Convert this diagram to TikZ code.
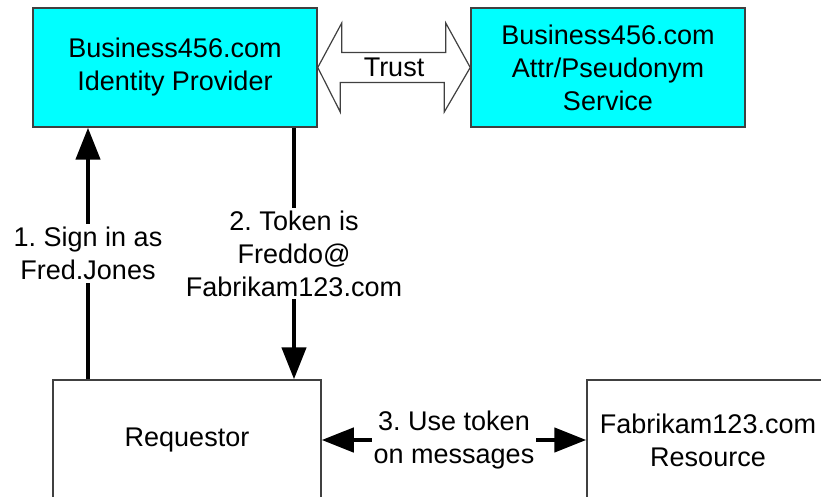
\documentclass[tikz,border=0pt]{standalone}
\usepackage{fontspec}
\setmainfont{Liberation Sans}
\usetikzlibrary{arrows.meta, positioning}
\definecolor{aqua}{RGB}{0, 255, 255}
\frenchspacing

\begin{document}
\begin{tikzpicture}[
    x=1pt, y=-1pt,
    box/.style={rectangle, draw=black!75, line width=1.5pt, align=center,
                font=\fontsize{27}{33}\selectfont, inner sep=0pt},
    service/.style={box, fill=aqua},
    msg/.style={fill=white, align=center, inner sep=3pt,
                font=\fontsize{27}{33}\selectfont},
    flow/.style={line width=4.5pt, -{Triangle[width=24pt, length=32pt]}},
    both/.style={line width=4.5pt,
                {Triangle[width=24pt, length=32pt]}-{Triangle[width=24pt, length=32pt]}},
    trust/.style={draw=black!75, line width=1.2pt, fill=white, line join=miter}
]
    \useasboundingbox (0,0) rectangle (821,497);

    % Providers
    \node[service, minimum width=284pt, minimum height=119pt] (idp) at (175,67.5)
        {Business456.com\\Identity Provider};
    \node[service, minimum width=274pt, minimum height=119pt] (attr) at (608,67.5)
        {Business456.com\\Attr/Pseudonym\\Service};

    % Parties
    \node[box, minimum width=268pt, minimum height=120pt] (req) at (187,440) {Requestor};
    \node[box, minimum width=242pt, minimum height=120pt] (res) at (708,440)
        {Fabrikam123.com\\Resource};

    % Trust
    \draw[trust] (idp.east) -- ++(24,-44.5) -- ++(0,29.5) -- ++(104,0) -- ++(0,-29.5)
        -- (attr.west) -- ++(-26,44.5) -- ++(0,-29.5) -- ++(-104,0) -- ++(0,29.5) -- cycle;
    \path (idp.east) -- node[font=\fontsize{27}{33}\selectfont] (trustlbl) {Trust} (attr.west);

    % Sign in and token
    \coordinate (signx) at (88,0);
    \coordinate (tokenx) at (294,0);
    \draw[flow] (req.north -| signx) -- node[msg] (signin) {1. Sign in as\\Fred.Jones}
        (idp.south -| signx);
    \draw[flow] (idp.south -| tokenx) -- node[msg] (token) {2. Token is\\Freddo@\\Fabrikam123.com}
        (req.north -| tokenx);

    % Use token
    \draw[both] (req.east) -- node[msg, inner sep=2pt] (use) {3. Use token\\on messages} (res.west);
\end{tikzpicture}
\end{document}
